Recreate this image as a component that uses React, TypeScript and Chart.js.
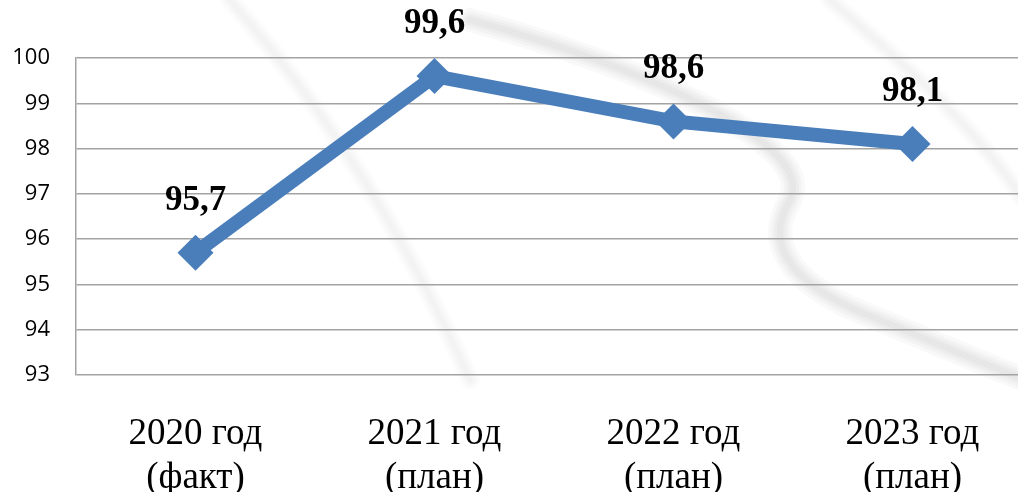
import React, { useEffect, useRef } from "react";
import { Chart, registerables } from "chart.js";

Chart.register(...registerables);

const categories: string[][] = [
  ["2020 год", "(факт)"],
  ["2021 год", "(план)"],
  ["2022 год", "(план)"],
  ["2023 год", "(план)"],
];
const values: number[] = [95.7, 99.6, 98.6, 98.1];
const valueLabels: string[] = ["95,7", "99,6", "98,6", "98,1"];
const yMin = 93;
const yMax = 100;

const LINE_COLOR = "#4a7ebb";
const GRID_COLOR = "#a3a3a3";
const CANVAS_W = 1032;
const CANVAS_H = 492;

const labelPlugin = {
  id: "valueLabels",
  afterDatasetsDraw(chart: any) {
    const ctx = chart.ctx;
    const meta = chart.getDatasetMeta(0);
    ctx.save();
    ctx.font = "bold 35px 'Liberation Serif', 'Times New Roman', serif";
    ctx.fillStyle = "#000";
    ctx.textAlign = "center";
    ctx.textBaseline = "middle";
    meta.data.forEach((pt: any, i: number) => {
      ctx.fillText(valueLabels[i], pt.x, pt.y - 52);
    });
    ctx.restore();
  },
};

function softStroke(ctx: CanvasRenderingContext2D, path: () => void, alpha: number, width: number) {
  const layers = [2.2, 1.6, 1.1, 0.6];
  layers.forEach((k) => {
    ctx.strokeStyle = `rgba(0,0,0,${alpha})`;
    ctx.lineWidth = width * k;
    ctx.beginPath();
    path();
    ctx.stroke();
  });
}

// faint decorative watermark swoosh behind the chart
const bgPlugin = {
  id: "bgWatermark",
  beforeDraw(chart: any) {
    const ctx = chart.ctx as CanvasRenderingContext2D;
    ctx.save();
    ctx.fillStyle = "#ffffff";
    ctx.fillRect(0, 0, chart.width, chart.height);
    ctx.lineCap = "round";
    softStroke(
      ctx,
      () => {
        ctx.moveTo(470, 20);
        ctx.bezierCurveTo(620, 60, 820, 140, 790, 200);
        ctx.bezierCurveTo(760, 250, 800, 290, 880, 320);
        ctx.bezierCurveTo(940, 345, 980, 362, 1020, 378);
      },
      0.022,
      11
    );
    softStroke(
      ctx,
      () => {
        ctx.moveTo(230, 0);
        ctx.bezierCurveTo(300, 80, 390, 200, 470, 380);
      },
      0.01,
      9
    );
    softStroke(
      ctx,
      () => {
        ctx.moveTo(830, 0);
        ctx.bezierCurveTo(900, 60, 980, 130, 1030, 210);
      },
      0.012,
      9
    );
    ctx.restore();
  },
};

export default function App() {
  const canvasRef = useRef<HTMLCanvasElement | null>(null);

  useEffect(() => {
    document.body.style.margin = "0";
    document.body.style.overflow = "hidden";
    const canvas = canvasRef.current;
    if (!canvas) return;
    const chart = new Chart(canvas, {
      type: "line",
      data: {
        labels: categories,
        datasets: [
          {
            data: values,
            borderColor: LINE_COLOR,
            backgroundColor: LINE_COLOR,
            borderWidth: 14,
            pointStyle: "rectRot",
            pointRadius: 18,
            pointHoverRadius: 18,
            pointBackgroundColor: LINE_COLOR,
            pointBorderColor: LINE_COLOR,
            pointBorderWidth: 0,
            tension: 0,
            clip: false as any,
          },
        ],
      },
      options: {
        animation: false,
        responsive: false,
        maintainAspectRatio: false,
        layout: { autoPadding: false, padding: { top: 58, left: 0, right: 0, bottom: 0 } },
        plugins: {
          legend: { display: false },
          tooltip: { enabled: false },
        },
        scales: {
          x: {
            offset: true,
            grid: { display: false, drawTicks: false },
            border: { display: false },
            ticks: {
              color: "#000",
              padding: 37,
              font: {
                family: "'Liberation Serif', 'Times New Roman', serif",
                size: 37,
                lineHeight: 1.2,
              },
              maxRotation: 0,
              autoSkip: false,
            },
            afterFit(scale: any) {
              scale.height = 117;
            },
          },
          y: {
            min: yMin,
            max: yMax,
            grid: { color: GRID_COLOR, lineWidth: 1.5, drawTicks: false },
            border: { display: true, color: GRID_COLOR, width: 1.5 },
            ticks: {
              stepSize: 1,
              color: "#000",
              padding: 26,
              font: { family: "'Open Sans', sans-serif", size: 22 },
            },
            afterFit(scale: any) {
              scale.width = 76;
            },
          },
        },
      },
      plugins: [bgPlugin, labelPlugin],
    });
    return () => chart.destroy();
  }, []);

  return (
    <div
      style={{
        position: "absolute",
        left: 0,
        top: 0,
        width: 1018,
        height: 492,
        overflow: "hidden",
        background: "#fff",
      }}
    >
      <div style={{ position: "relative", width: CANVAS_W, height: CANVAS_H }}>
        <canvas
          ref={canvasRef}
          width={CANVAS_W}
          height={CANVAS_H}
          style={{ width: CANVAS_W, height: CANVAS_H, display: "block" }}
        />
      </div>
    </div>
  );
}
